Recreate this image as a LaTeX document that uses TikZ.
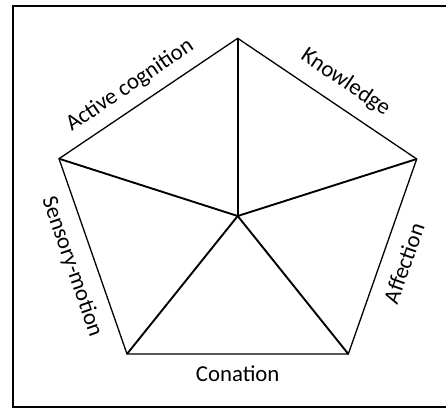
\documentclass[tikz,border=0pt]{standalone}
\usepackage{fontspec}
\setmainfont{Carlito}
\usetikzlibrary{calc}
\begin{document}
\begin{tikzpicture}[x=1pt,y=-1pt,
  frameline/.style={line width=2pt},
  edgeline/.style={line width=1.3pt},
  spokeline/.style={line width=1.9pt},
  lbl/.style={inner sep=0pt, font=\fontsize{22.8}{27}\selectfont}]
  \useasboundingbox (0,0) rectangle (446,407);
  % outer frame
  \draw[frameline] (13,6) rectangle (452,406.5);

  % pentagon corners and centre
  \coordinate (T)  at (237.7,38.3);
  \coordinate (R)  at (416.7,159);
  \coordinate (BR) at (348.3,354);
  \coordinate (BL) at (127,354);
  \coordinate (L)  at (59,158.7);
  \coordinate (C)  at (237.7,216);

  % outline
  \draw[edgeline, line join=miter] (T) -- (R) -- (BR) -- (BL) -- (L) -- cycle;
  % spokes
  \foreach \v in {T,R,BR,BL,L} \draw[spokeline] (C) -- (\v);

  % side labels
  \node[lbl, rotate=34]    (ac) at (130,85.5)   {Active cognition};
  \node[lbl, rotate=-34]   (kn) at (345.5,82.5) {Knowledge};
  \node[lbl, rotate=-70.8] (sm) at (72,266.7)   {Sensory-motion};
  \node[lbl, rotate=70.7]  (af) at (403.8,263.3) {Affection};
  \node[lbl, anchor=base]  (co) at (237.7,381)  {Conation};
\end{tikzpicture}
\end{document}
